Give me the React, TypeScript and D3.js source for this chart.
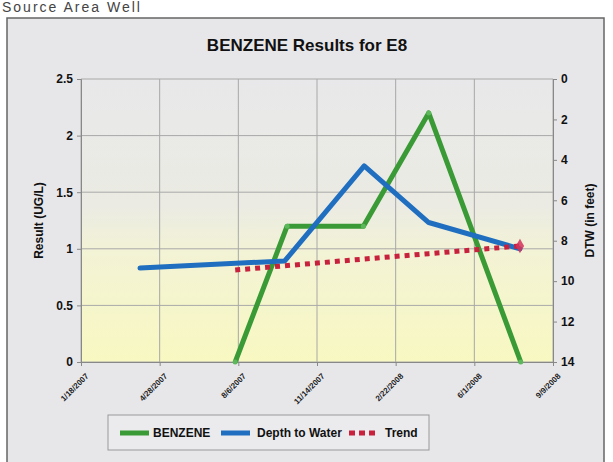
import React, { useEffect, useRef } from 'react';
import * as d3 from 'd3';

const tickDates = ['1/18/2007', '4/28/2007', '8/6/2007', '11/14/2007', '2/22/2008', '6/1/2008', '9/9/2008'];

const benzeneDates = ['8/2/2007', '10/7/2007', '1/12/2008', '4/4/2008', '7/30/2008'];
const benzeneValues = [0, 1.2, 1.2, 2.2, 0];

const dtwDates = ['4/3/2007', '10/4/2007', '1/13/2008', '4/4/2008', '7/29/2008'];
const dtwValues = [9.35, 9.0, 4.3, 7.1, 8.4];

const trendDates = ['8/2/2007', '10/7/2007', '1/12/2008', '4/4/2008', '7/29/2008'];
const trendValues = [9.45, 9.23, 8.91, 8.64, 8.26];

const resultTicks = [0, 0.5, 1, 1.5, 2, 2.5];
const dtwTicks = [0, 2, 4, 6, 8, 10, 12, 14];

const parse = d3.timeParse('%m/%d/%Y');
const font = "'Liberation Sans', Arial, sans-serif";

export default function App() {
  const ref = useRef<SVGSVGElement>(null);

  useEffect(() => {
    const svg = d3.select(ref.current);
    svg.selectAll('*').remove();
    const width = 613;
    const height = 462;
    const left = 81;
    const right = 553;
    const top = 79;
    const bottom = 362;

    const x = d3
      .scaleTime()
      .domain([parse(tickDates[0])!, parse(tickDates[tickDates.length - 1])!])
      .range([left, right]);
    const y = d3.scaleLinear().domain([0, 2.5]).range([bottom, top]);
    const y2 = d3.scaleLinear().domain([0, 14]).range([top, bottom]);

    const defs = svg.append('defs');
    const grad = defs
      .append('linearGradient')
      .attr('id', 'plotbg')
      .attr('x1', 0)
      .attr('y1', 0)
      .attr('x2', 0)
      .attr('y2', 1);
    [
      ['0%', '#e8e8ea'],
      ['45%', '#ebebe3'],
      ['62%', '#f3f3d5'],
      ['100%', '#f8f8c2'],
    ].forEach(([o, c]) => grad.append('stop').attr('offset', o).attr('stop-color', c));

    // page + frame
    svg.append('rect').attr('width', width).attr('height', height).attr('fill', '#ffffff');
    svg
      .append('text')
      .attr('x', 2)
      .attr('y', 12)
      .attr('font-family', font)
      .attr('font-size', 14)
      .attr('letter-spacing', 2)
      .attr('fill', '#444')
      .text('Source Area Well');
    svg
      .append('rect')
      .attr('x', 7)
      .attr('y', 18)
      .attr('width', 597)
      .attr('height', 450)
      .attr('fill', '#e7e7ea')
      .attr('stroke', '#666')
      .attr('stroke-width', 1.5);

    svg
      .append('text')
      .attr('x', 307)
      .attr('y', 51)
      .attr('text-anchor', 'middle')
      .attr('font-family', font)
      .attr('font-weight', 'bold')
      .attr('font-size', 17)
      .attr('fill', '#111')
      .text('BENZENE Results for E8');

    // plot area
    svg
      .append('rect')
      .attr('x', left)
      .attr('y', top)
      .attr('width', right - left)
      .attr('height', bottom - top)
      .attr('fill', 'url(#plotbg)');

    const grid = svg.append('g').attr('stroke', '#a8a8a8').attr('stroke-width', 1);
    resultTicks.forEach((t) =>
      grid.append('line').attr('x1', left).attr('x2', right).attr('y1', y(t)).attr('y2', y(t))
    );
    tickDates.forEach((d) =>
      grid
        .append('line')
        .attr('x1', x(parse(d)!))
        .attr('x2', x(parse(d)!))
        .attr('y1', top)
        .attr('y2', bottom)
    );

    // axes
    const yAxis = d3
      .axisLeft(y)
      .tickValues(resultTicks)
      .tickFormat((d) => String(d))
      .tickSize(4)
      .tickPadding(4);
    const yAxis2 = d3.axisRight(y2).tickValues(dtwTicks).tickSize(4).tickPadding(4);
    const xAxis = d3
      .axisBottom(x)
      .tickValues(tickDates.map((d) => parse(d)!))
      .tickFormat((_, i) => tickDates[i])
      .tickSize(4);

    const styleAxis = (g: any) => {
      g.select('.domain').attr('stroke', '#888');
      g.selectAll('.tick line').attr('stroke', '#888');
      g.selectAll('text')
        .attr('font-family', font)
        .attr('font-weight', 'bold')
        .attr('fill', '#111');
    };

    svg
      .append('g')
      .attr('transform', `translate(${left},0)`)
      .call(yAxis)
      .call(styleAxis)
      .selectAll('text')
      .attr('font-size', 12);
    svg
      .append('g')
      .attr('transform', `translate(${right},0)`)
      .call(yAxis2)
      .call(styleAxis)
      .selectAll('text')
      .attr('font-size', 12);
    const xg = svg
      .append('g')
      .attr('transform', `translate(0,${bottom})`)
      .call(xAxis)
      .call(styleAxis);
    xg.selectAll('text')
      .attr('font-size', 8)
      .attr('fill', '#222')
      .attr('text-anchor', 'end')
      .attr('dy', '0.3em')
      .attr('transform', 'translate(1,8) rotate(-45)');

    svg
      .append('text')
      .attr('transform', `translate(43,${(top + bottom) / 2}) rotate(-90)`)
      .attr('text-anchor', 'middle')
      .attr('font-family', font)
      .attr('font-weight', 'bold')
      .attr('font-size', 12)
      .attr('fill', '#111')
      .text('Result (UG/L)');
    svg
      .append('text')
      .attr('transform', `translate(594,${(top + bottom) / 2}) rotate(-90)`)
      .attr('text-anchor', 'middle')
      .attr('font-family', font)
      .attr('font-weight', 'bold')
      .attr('font-size', 12)
      .attr('fill', '#111')
      .text('DTW (in feet)');

    // series
    const benzene = benzeneDates.map((d, i) => ({ date: parse(d)!, v: benzeneValues[i] }));
    const dtw = dtwDates.map((d, i) => ({ date: parse(d)!, v: dtwValues[i] }));
    const trend = trendDates.map((d, i) => ({ date: parse(d)!, v: trendValues[i] }));

    svg
      .append('path')
      .datum(benzene)
      .attr('fill', 'none')
      .attr('stroke', '#3a9a35')
      .attr('stroke-width', 5)
      .attr('stroke-linejoin', 'round')
      .attr(
        'd',
        d3
          .line<any>()
          .x((d) => x(d.date))
          .y((d) => y(d.v))
      );
    svg
      .append('g')
      .selectAll('circle')
      .data(benzene)
      .join('circle')
      .attr('cx', (d) => x(d.date))
      .attr('cy', (d) => y(d.v))
      .attr('r', 2.5)
      .attr('fill', '#5cb85a');

    svg
      .append('path')
      .datum(dtw)
      .attr('fill', 'none')
      .attr('stroke', '#1f6ec0')
      .attr('stroke-width', 5)
      .attr('stroke-linejoin', 'round')
      .attr('stroke-linecap', 'round')
      .attr(
        'd',
        d3
          .line<any>()
          .x((d) => x(d.date))
          .y((d) => y2(d.v))
      );

    svg
      .append('path')
      .datum(trend)
      .attr('fill', 'none')
      .attr('stroke', '#c8213d')
      .attr('stroke-width', 5)
      .attr('stroke-dasharray', '5,5')
      .attr(
        'd',
        d3
          .line<any>()
          .x((d) => x(d.date))
          .y((d) => y2(d.v))
      );
    const last = trend[trend.length - 1];
    svg
      .append('path')
      .attr('d', d3.symbol(d3.symbolDiamond, 60)())
      .attr('transform', `translate(${x(last.date)},${y2(last.v)})`)
      .attr('fill', '#d4325a')
      .attr('opacity', 0.85);

    // legend
    const lg = svg.append('g');
    lg.append('rect')
      .attr('x', 108)
      .attr('y', 415)
      .attr('width', 321)
      .attr('height', 35)
      .attr('fill', '#ebebee')
      .attr('stroke', '#999');
    const items = [
      { label: 'BENZENE', color: '#3a9a35', dash: null, x0: 120, tx: 153 },
      { label: 'Depth to Water', color: '#1f6ec0', dash: null, x0: 221, tx: 257 },
      { label: 'Trend', color: '#c8213d', dash: '6,4', x0: 349, tx: 385 },
    ];
    items.forEach((it) => {
      lg.append('line')
        .attr('x1', it.x0)
        .attr('x2', it.x0 + 29)
        .attr('y1', 433)
        .attr('y2', 433)
        .attr('stroke', it.color)
        .attr('stroke-width', 5)
        .attr('stroke-dasharray', it.dash);
      lg.append('text')
        .attr('x', it.tx)
        .attr('y', 437)
        .attr('font-family', font)
        .attr('font-weight', 'bold')
        .attr('font-size', 12)
        .attr('fill', '#111')
        .text(it.label);
    });
  }, []);

  return (
    <svg
      ref={ref}
      width={613}
      height={462}
      style={{ position: 'absolute', left: 0, top: 0, display: 'block' }}
    ></svg>
  );
}
